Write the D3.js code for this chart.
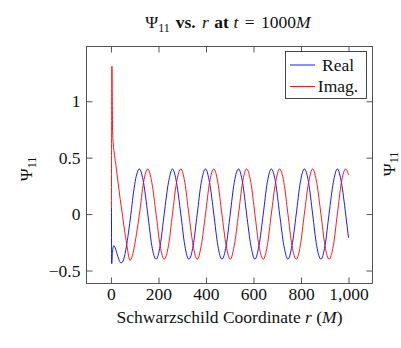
<!DOCTYPE html>
<html>
<head>
<meta charset="utf-8">
<script src="https://cdn.jsdelivr.net/npm/d3@7"></script>
<style>
  html, body { margin: 0; padding: 0; background: #fff; }
  svg { display: block; font-family: "Liberation Serif", "Times New Roman", serif; }
</style>
</head>
<body>
<svg id="chart" width="401" height="348"></svg>
<script>
// Onset of the signal (irregular part near the origin)
const realOnsetR = [2, 3, 6, 12, 18, 25, 33, 40, 46, 55, 64, 74, 84, 93, 102, 111];
const realOnsetV = [0.06, -0.44, -0.34, -0.28, -0.30, -0.35, -0.40, -0.43, -0.43, -0.39, -0.30, -0.16, 0.0, 0.16, 0.29, 0.37];
const imagOnsetR = [2, 4, 5.5, 7, 10, 15, 21, 30, 39, 49, 59, 68, 80, 90, 100, 110];
const imagOnsetV = [0.06, 1.31, 1.0, 0.72, 0.62, 0.52, 0.43, 0.28, 0.13, -0.02, -0.17, -0.29, -0.41, -0.37, -0.27, -0.14];

// Steady oscillation, sampled on a common r grid
const waveR = [120, 137, 155, 172, 190, 207, 224, 242, 259, 276, 294, 311, 328, 346, 363, 380, 398,
  415, 433, 450, 467, 485, 502, 519, 537, 554, 571, 589, 606, 623, 641, 658, 675,
  693, 710, 728, 745, 762, 780, 797, 814, 832, 849, 866, 884, 901, 918, 936, 953,
  970, 988, 1000];
const realWaveV = [0.40, 0.28, 0, -0.28, -0.40, -0.28, 0, 0.28, 0.40,
  0.28, 0, -0.28, -0.40, -0.28, 0, 0.28, 0.40,
  0.28, 0, -0.28, -0.40, -0.28, 0, 0.28, 0.40,
  0.28, 0, -0.28, -0.40, -0.28, 0, 0.28, 0.40,
  0.28, 0, -0.28, -0.40, -0.28, 0, 0.28, 0.40,
  0.28, 0, -0.28, -0.40, -0.28, 0, 0.28, 0.40,
  0.28, 0, -0.21];
const imagWaveV = [0, 0.28, 0.40, 0.28, 0, -0.28, -0.40, -0.28, 0,
  0.28, 0.40, 0.28, 0, -0.28, -0.40, -0.28, 0,
  0.28, 0.40, 0.28, 0, -0.28, -0.40, -0.28, 0,
  0.28, 0.40, 0.28, 0, -0.28, -0.40, -0.28, 0,
  0.28, 0.40, 0.28, 0, -0.28, -0.40, -0.28, 0,
  0.28, 0.40, 0.28, 0, -0.28, -0.40, -0.28, 0,
  0.28, 0.40, 0.35];

const xTicks = [0, 200, 400, 600, 800, 1000];
const yTicks = [-0.5, 0, 0.5, 1];
const seriesNames = ["Real", "Imag."];
const seriesColors = ["#0000ff", "#ff0000"];

const svg = d3.select("#chart");
const L = 86.5, R = 372.5, T = 46.5, B = 283.5;
const FS = 17.5;

const x = d3.scaleLinear().domain([-103, 1101]).range([L, R]);
const y = d3.scaleLinear().domain([-0.615, 1.485]).range([B, T]);

const zip = (rs, vs) => rs.map((r, i) => ({ r, v: vs[i] }));
const realData = zip(realOnsetR, realOnsetV).concat(zip(waveR, realWaveV));
const imagData = zip(imagOnsetR, imagOnsetV).concat(zip(waveR, imagWaveV));

svg.append("rect").attr("width", 401).attr("height", 348).attr("fill", "#fff");

// Curves
const line = d3.line().x(d => x(d.r)).y(d => y(d.v)).curve(d3.curveMonotoneX);
[realData, imagData].forEach((data, i) => {
  svg.append("path").datum(data)
    .attr("fill", "none")
    .attr("stroke", seriesColors[i])
    .attr("stroke-width", 0.9)
    .attr("d", line);
});

// Axes with inward ticks on all four sides
const tickLen = 6;
const fmtX = d3.format(",");
const fmtY = v => (v < 0 ? "\u2212" : "") + Math.abs(v);

const gx = svg.append("g").attr("transform", `translate(0,${B})`)
  .call(d3.axisBottom(x).tickValues(xTicks).tickFormat(fmtX).tickSizeInner(-tickLen).tickSizeOuter(0).tickPadding(4));
const gxt = svg.append("g").attr("transform", `translate(0,${T})`)
  .call(d3.axisTop(x).tickValues(xTicks).tickFormat("").tickSizeInner(-tickLen).tickSizeOuter(0));
const gy = svg.append("g").attr("transform", `translate(${L},0)`)
  .call(d3.axisLeft(y).tickValues(yTicks).tickFormat(fmtY).tickSizeInner(-tickLen).tickSizeOuter(0).tickPadding(6));
const gyr = svg.append("g").attr("transform", `translate(${R},0)`)
  .call(d3.axisRight(y).tickValues(yTicks).tickFormat("").tickSizeInner(-tickLen).tickSizeOuter(0));

[gx, gxt, gy, gyr].forEach(g => {
  g.select(".domain").remove();
  g.selectAll(".tick line").attr("stroke", "#444").attr("stroke-width", 0.9);
  g.selectAll(".tick text").attr("fill", "#111").attr("font-size", FS)
    .attr("font-family", "Liberation Serif, serif");
});

svg.append("rect")
  .attr("x", L).attr("y", T).attr("width", R - L).attr("height", B - T)
  .attr("fill", "none").attr("stroke", "#444").attr("stroke-width", 0.9);

// Title
const title = svg.append("text").attr("x", 228).attr("y", 28)
  .attr("text-anchor", "middle").attr("font-size", FS).attr("fill", "#111");
title.append("tspan").text("\u03A8");
title.append("tspan").attr("font-size", 12).attr("dy", 3.5).text("11");
title.append("tspan").attr("dy", -3.5).attr("dx", 1.5).attr("font-weight", "bold").text(" vs. ");
title.append("tspan").attr("dx", 2).attr("font-style", "italic").text("r");
title.append("tspan").attr("dx", 1).attr("font-weight", "bold").text(" at ");
title.append("tspan").attr("dx", 0.5).attr("font-style", "italic").text("t");
title.append("tspan").attr("dx", 2).text(" = ");
title.append("tspan").attr("dx", 2).text("1000");
title.append("tspan").attr("font-style", "italic").text("M");

// X axis label
const xl = svg.append("text").attr("x", 229.5).attr("y", 323)
  .attr("text-anchor", "middle").attr("font-size", FS).attr("fill", "#111");
xl.append("tspan").text("Schwarzschild Coordinate ");
xl.append("tspan").attr("font-style", "italic").text("r");
xl.append("tspan").text(" (");
xl.append("tspan").attr("font-style", "italic").text("M");
xl.append("tspan").text(")");

// Y axis label, plus the matching label at the right edge
function psiLabel(cx, cy) {
  const t = svg.append("text")
    .attr("transform", `translate(${cx},${cy}) rotate(-90)`)
    .attr("text-anchor", "middle").attr("font-size", FS).attr("fill", "#111");
  t.append("tspan").text("\u03A8");
  t.append("tspan").attr("font-size", 12).attr("dy", 3.5).text("11");
  return t;
}
psiLabel(32, 169);
psiLabel(394.5, 164);

// Legend
const lg = svg.append("g");
lg.append("rect").attr("x", 285.5).attr("y", 51.5).attr("width", 81).attr("height", 47)
  .attr("fill", "#fff").attr("stroke", "#333").attr("stroke-width", 0.9);
seriesNames.forEach((name, i) => {
  const yy = 65 + i * 21.5;
  lg.append("line").attr("x1", 290).attr("x2", 315).attr("y1", yy).attr("y2", yy)
    .attr("stroke", seriesColors[i]).attr("stroke-width", 0.9);
  lg.append("text").attr("x", 338).attr("y", yy + 5.5).attr("text-anchor", "middle")
    .attr("font-size", FS).attr("fill", "#111").text(name);
});
</script>
</body>
</html>
